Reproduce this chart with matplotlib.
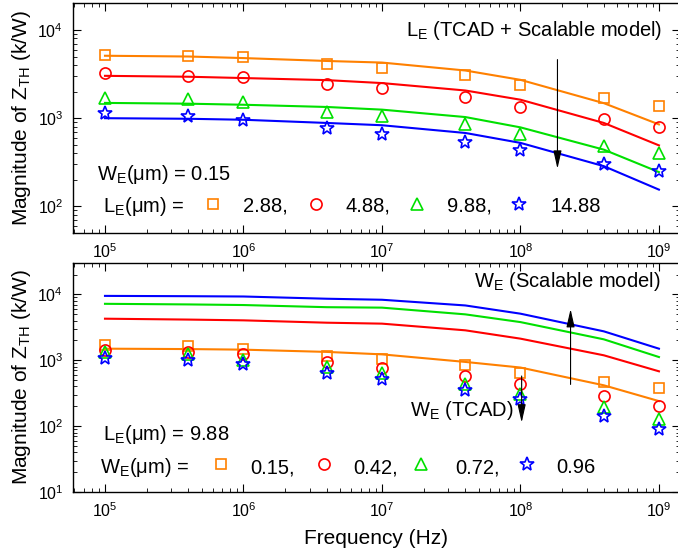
import matplotlib
matplotlib.use("Agg")
import matplotlib.pyplot as plt
from matplotlib.ticker import LogLocator, NullFormatter

plt.rcParams["font.family"] = ["Liberation Sans", "DejaVu Sans"]
plt.rcParams["mathtext.fontset"] = "custom"
plt.rcParams["mathtext.rm"] = "Liberation Sans"
plt.rcParams["mathtext.it"] = "Liberation Sans:italic"
plt.rcParams["mathtext.bf"] = "Liberation Sans:bold"

# frequency points (Hz)
freq = [1e5, 4e5, 1e6, 4e6, 1e7, 4e7, 1e8, 4e8, 1e9]

# upper panel: W_E = 0.15 um, varying L_E
le_labels = ["2.88,", "4.88,", "9.88,", "14.88"]
tcad_le = [
    [5200, 5100, 4900, 4130, 3750, 3100, 2400, 1690, 1380],
    [3240, 3030, 2920, 2430, 2170, 1750, 1350, 980, 800],
    [1690, 1650, 1520, 1190, 1070, 860, 668, 480, 400],
    [1150, 1070, 962, 776, 668, 538, 433, 306, 251],
]
model_le = [
    [5100, 5000, 4800, 4450, 4270, 3470, 2720, 1480, 850],
    [3020, 2950, 2850, 2700, 2500, 2060, 1620, 883, 492],
    [1490, 1460, 1420, 1340, 1250, 1030, 787, 440, 245],
    [1000, 985, 960, 883, 832, 680, 525, 286, 155],
]

# lower panel: L_E = 9.88 um, varying W_E
we_labels = ["0.15,", "0.42,", "0.72,", "0.96"]
tcad_we = [
    [1690, 1630, 1470, 1150, 1060, 840, 646, 470, 386],
    [1450, 1340, 1230, 935, 776, 586, 433, 290, 201],
    [1340, 1260, 1020, 790, 646, 443, 313, 197, 128],
    [1100, 1020, 871, 652, 526, 360, 254, 143, 90],
]
model_we = [
    [1500, 1480, 1450, 1340, 1230, 944, 776, 417, 240],
    [4280, 4150, 4040, 3720, 3600, 2850, 2130, 1190, 680],
    [7200, 7050, 6900, 6400, 6300, 4980, 3800, 2080, 1120],
    [9500, 9400, 9300, 8600, 8300, 6800, 5100, 2750, 1500],
]

colors = ["#FF8000", "#FF0000", "#00E000", "#0000FF"]
markers = ["s", "o", "^", "*"]
msizes = [7, 8, 9, 10.5]
FS = 14.5
ARROW = dict(arrowstyle="-|>,head_width=0.25,head_length=1.1",
             color="k", lw=0.8, mutation_scale=10)

W, H = 678, 552
fig = plt.figure(figsize=(W / 100, H / 100), dpi=100)


def px_axes(left, top, right, bottom):
    return fig.add_axes([left / W, 1 - bottom / H, (right - left) / W, (bottom - top) / H])


ax1 = px_axes(73, 3, 680, 233)
ax2 = px_axes(73, 263, 680, 492)


def style(ax, ylim):
    ax.set_xscale("log")
    ax.set_yscale("log")
    ax.set_xlim(10 ** 4.769, 10 ** 9.152)
    ax.set_ylim(*ylim)
    ax.xaxis.set_major_locator(LogLocator(base=10, numticks=20))
    ax.xaxis.set_minor_locator(LogLocator(base=10, subs=range(2, 10), numticks=20))
    ax.xaxis.set_minor_formatter(NullFormatter())
    ax.yaxis.set_minor_formatter(NullFormatter())
    ax.tick_params(which="both", direction="in", top=True, right=True, labelsize=11.5)
    ax.tick_params(which="major", length=6, pad=7)
    ax.tick_params(which="minor", length=3)
    for s in ax.spines.values():
        s.set_linewidth(1.0)


def legend_row(ax, ax_left, ax_w, ax_bot, ax_h, y_marker, y_base, mx, tx, labels):
    # marker + value pairs written inside the panel
    for i, (m, t, lab) in enumerate(zip(mx, tx, labels)):
        ax.plot((m - ax_left) / ax_w, (ax_bot - y_marker) / ax_h, marker=markers[i],
                ms=msizes[i], mfc="none", mec=colors[i], mew=1.2, ls="none",
                transform=ax.transAxes, clip_on=False)
        ax.text((t - ax_left) / ax_w, (ax_bot - y_base) / ax_h, lab, fontsize=FS,
                transform=ax.transAxes, va="baseline", ha="left")


# upper panel
style(ax1, (50, 2.02e4))
for i in range(4):
    ax1.plot(freq, model_le[i], color=colors[i], lw=1.5)
    ax1.plot(freq, tcad_le[i], ls="none", marker=markers[i], ms=msizes[i],
             mfc="none", mec=colors[i], mew=1.2)
ax1.text((662 - 73) / 607, (233 - 36) / 230, r"L$\mathregular{_E}$ (TCAD + Scalable model)",
         fontsize=FS, transform=ax1.transAxes, ha="right", va="baseline")
ax1.annotate("", xy=(1.85e8, 249), xytext=(1.85e8, 4960), arrowprops=ARROW)
ax1.text((97 - 73) / 607, (233 - 180) / 230, r"W$\mathregular{_E}$(μm) = 0.15",
         fontsize=FS, transform=ax1.transAxes, va="baseline")
ax1.text((103 - 73) / 607, (233 - 212) / 230, r"L$\mathregular{_E}$(μm) =",
         fontsize=FS, transform=ax1.transAxes, va="baseline")
legend_row(ax1, 73, 607, 233, 230, 204, 212, [213, 316, 417, 519],
           [243, 345, 447, 550], le_labels)

# lower panel
style(ax2, (10, 3e4))
for i in range(4):
    ax2.plot(freq, model_we[i], color=colors[i], lw=1.5)
    ax2.plot(freq, tcad_we[i], ls="none", marker=markers[i], ms=msizes[i],
             mfc="none", mec=colors[i], mew=1.2)
ax2.text((660 - 73) / 607, (492 - 287) / 229, r"W$\mathregular{_E}$ (Scalable model)",
         fontsize=FS, transform=ax2.transAxes, ha="right", va="baseline")
ax2.annotate("", xy=(2.3e8, 6600), xytext=(2.3e8, 390), arrowprops=ARROW)
ax2.text((410 - 73) / 607, (492 - 416) / 229, r"W$\mathregular{_E}$ (TCAD)",
         fontsize=FS, transform=ax2.transAxes, va="baseline")
ax2.annotate("", xy=(1.02e8, 103), xytext=(1.02e8, 636), arrowprops=ARROW)
ax2.text((103 - 73) / 607, (492 - 440) / 229, r"L$\mathregular{_E}$(μm) = 9.88",
         fontsize=FS, transform=ax2.transAxes, va="baseline")
ax2.text((100 - 73) / 607, (492 - 473) / 229, r"W$\mathregular{_E}$(μm) =",
         fontsize=FS, transform=ax2.transAxes, va="baseline")
legend_row(ax2, 73, 607, 492, 229, 464, 473, [221, 324, 421, 527],
           [250, 353, 455, 556], we_labels)

ax2.set_xlabel("Frequency (Hz)", fontsize=15, labelpad=6)
for ax in (ax1, ax2):
    ax.set_ylabel(r"Magnitude of Z$\mathregular{_{TH}}$ (k/W)", fontsize=15, labelpad=3)

fig.savefig("out.png", dpi=100)
